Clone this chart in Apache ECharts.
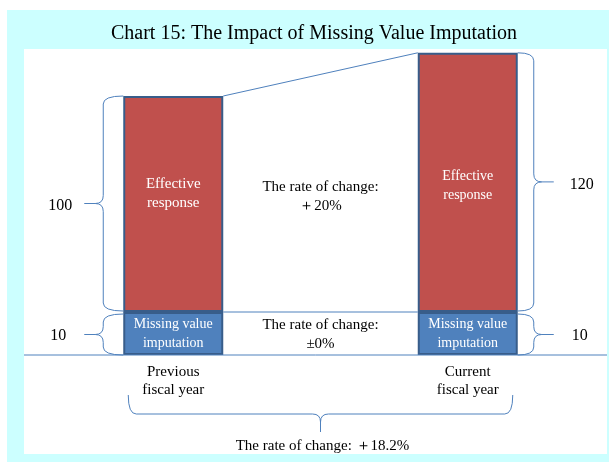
<!DOCTYPE html>
<html>
<head>
<meta charset="utf-8">
<script src="https://cdn.jsdelivr.net/npm/echarts@6/dist/echarts.min.js"></script>
<style>
html,body{margin:0;padding:0;background:#fff;}
#chart{width:609px;height:462px;}
</style>
</head>
<body>
<div id="chart"></div>
<script>
// data
var years = ["Previous\nfiscal year", "Current\nfiscal year"];
var effective = [100, 120];       // effective response
var imputed = [10, 10];           // missing value imputation
var partNames = ["Effective\nresponse", "Missing value\nimputation"];
var titleText = "Chart 15: The Impact of Missing Value Imputation";

var serif = '"Liberation Serif", "Times New Roman", serif';
var lineColor = '#4F81BD';

function rate(a, b) {
  var r = Math.round((b - a) / a * 1000) / 10;
  if (r === 0) return '\u00b10%';
  return (r > 0 ? '\uff0b' : '\uff0d') + Math.abs(r) + '%';
}

var chart = echarts.init(document.getElementById('chart'));

var option = {
  backgroundColor: '#fff',
  animation: false,
  grid: [
    {left: 26, width: 589, top: 42, height: 270, outerBoundsMode: 'none'},   // effective response band
    {left: 26, width: 589, top: 312, height: 43, outerBoundsMode: 'none'}    // imputation band
  ],
  xAxis: [
    {type: 'category', gridIndex: 0, data: years, show: false},
    {type: 'category', gridIndex: 1, data: years,
      axisLine: {show: false}, axisTick: {show: false},
      axisLabel: {color: '#000', fontFamily: serif, fontSize: 15, lineHeight: 18, margin: 8}}
  ],
  yAxis: [
    {type: 'value', gridIndex: 0, min: 0, max: 125, show: false},
    {type: 'value', gridIndex: 1, min: 0, max: 10, show: false}
  ],
  series: [
    {
      type: 'bar', xAxisIndex: 0, yAxisIndex: 0, barWidth: 100,
      itemStyle: {color: '#C0504D', borderColor: '#385D8A', borderWidth: 2},
      label: {show: true, position: 'inside', formatter: partNames[0], color: '#fff',
        fontFamily: serif, fontSize: 14, lineHeight: 19},
      data: effective.map(function (v, i) {
        return {value: v, label: {offset: i === 0 ? [0, -10] : [0, 3], fontSize: i === 0 ? 15 : 14}};
      })
    },
    {
      type: 'bar', xAxisIndex: 1, yAxisIndex: 1, barWidth: 100,
      itemStyle: {color: '#4F81BD', borderColor: '#385D8A', borderWidth: 2},
      label: {show: true, position: 'inside', formatter: partNames[1], color: '#fff',
        fontFamily: serif, fontSize: 14, lineHeight: 19},
      data: imputed
    }
  ]
};
chart.setOption(option);

// positions of the marks, taken from the axes
function px(g, i, v) { return chart.convertToPixel({gridIndex: g}, [i, v]); }
var half = 50;
var c0 = px(1, 0, 0)[0], c1 = px(1, 1, 0)[0];
var base = px(1, 0, 0)[1];
var split = px(1, 0, imputed[0])[1];
var top0 = px(0, 0, effective[0])[1];
var top1 = px(0, 1, effective[1])[1];
var mid = (c0 + c1) / 2;

function line(x1, y1, x2, y2) {
  return {type: 'line', z: 5, shape: {x1: x1, y1: y1, x2: x2, y2: y2},
    style: {stroke: lineColor, lineWidth: 1, fill: null}};
}
function curve(x1, y1, cx, cy, x2, y2) {
  return {type: 'bezierCurve', z: 5, shape: {x1: x1, y1: y1, cpx1: cx, cpy1: cy, x2: x2, y2: y2},
    style: {stroke: lineColor, lineWidth: 1, fill: null}};
}
// vertical brace: ends at xe, spine at xs, tip at xt
function vBrace(xe, xs, xt, y1, y2) {
  var ym = (y1 + y2) / 2, r = Math.min(8, (y2 - y1) / 5), d = xt < xs ? -1 : 1;
  return [
    curve(xe, y1, xs, y1, xs, y1 + r),
    line(xs, y1 + r, xs, ym - r),
    curve(xs, ym - r, xs, ym, xs + d * r, ym),
    line(xs + d * r, ym, xt, ym),
    curve(xs + d * r, ym, xs, ym, xs, ym + r),
    line(xs, ym + r, xs, y2 - r),
    curve(xs, y2 - r, xs, y2, xe, y2)
  ];
}
// horizontal brace pointing down
function hBrace(ye, ys, yt, x1, x2) {
  var xm = (x1 + x2) / 2, r = 8;
  return [
    curve(x1, ye, x1, ys, x1 + r, ys),
    line(x1 + r, ys, xm - r, ys),
    curve(xm - r, ys, xm, ys, xm, ys + r),
    line(xm, ys + r, xm, yt),
    curve(xm, ys + r, xm, ys, xm + r, ys),
    line(xm + r, ys, x2 - r, ys),
    curve(x2 - r, ys, x2, ys, x2, ye)
  ];
}
function txt(s, x, y, size, lh) {
  return {type: 'text', z: 6, style: {text: s, x: x, y: y, align: 'center', verticalAlign: 'middle',
    font: size + 'px ' + serif, fill: '#000', lineHeight: lh || size + 4}};
}

var lx0 = c0 - half, rx1 = c1 + half;
var g = [
  {type: 'rect', z: -2, shape: {x: 7, y: 10, width: 602, height: 452}, style: {fill: '#CCFFFF'}},
  {type: 'rect', z: -1, shape: {x: 24, y: 49, width: 583, height: 405}, style: {fill: '#fff'}},
  txt(titleText, 314, 34, 20),
  line(c0 + half, top0, c1 - half, top1),
  line(c0 + half, split, c1 - half, split),
  line(24, base, 607, base),
  txt(String(effective[0]), lx0 - 63, (top0 + split) / 2 + 2, 16),
  txt(String(imputed[0]), lx0 - 65, (split + base) / 2 + 2, 16),
  txt(String(effective[1]), rx1 + 64, (top1 + split) / 2 + 2, 16),
  txt(String(imputed[1]), rx1 + 62, (split + base) / 2 + 2, 16),
  txt('The rate of change:\n' + rate(effective[0], effective[1]), mid, 197, 15, 19),
  txt('The rate of change:\n' + rate(imputed[0], imputed[1]), mid, 335, 15, 19),
  txt('The rate of change: ' + rate(effective[0] + imputed[0], effective[1] + imputed[1]), mid + 2, 446, 15)
];
g = g.concat(vBrace(lx0, lx0 - 20, lx0 - 39, top0, split - 1));
g = g.concat(vBrace(lx0, lx0 - 20, lx0 - 39, split + 2, base));
g = g.concat(vBrace(rx1, rx1 + 16, rx1 + 36, top1, split - 1));
g = g.concat(vBrace(rx1, rx1 + 16, rx1 + 36, split + 2, base));
g = g.concat(hBrace(395, 414, 432, c0 - 45, c1 + 45));

chart.setOption({graphic: g});
</script>
</body>
</html>
